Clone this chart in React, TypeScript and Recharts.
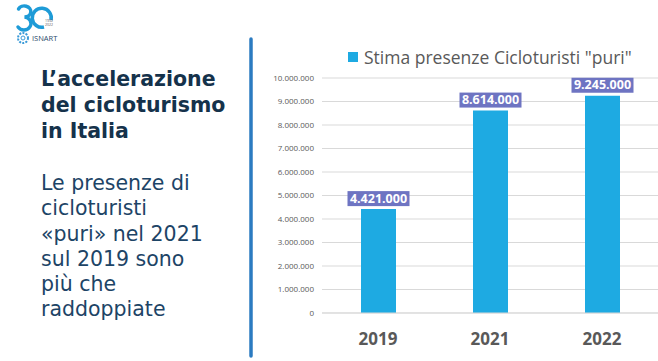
import { BarChart, Bar, XAxis, YAxis, CartesianGrid, LabelList } from 'recharts';

const years = ['2019', '2021', '2022'];
const presenze = [4421000, 8614000, 9245000];
const yTicks = [0, 1000000, 2000000, 3000000, 4000000, 5000000, 6000000, 7000000, 8000000, 9000000, 10000000];
const seriesName = 'Stima presenze Cicloturisti "puri"';
const titleLines = ["L’accelerazione", 'del cicloturismo', 'in Italia'];
const bodyLines = ['Le presenze di', 'cicloturisti', '«puri» nel 2021', 'sul 2019 sono', 'più che', 'raddoppiate'];

const data = years.map((year, i) => ({ year, presenze: presenze[i] }));

const fmt = (v: number) => v.toLocaleString('de-DE');

function ValueBox(props: any) {
  const { x, y, width, value } = props;
  const cx = x + width / 2;
  const w = 62;
  const h = 15;
  return (
    <g>
      <rect x={cx - w / 2} y={y - h - 3} width={w} height={h} fill="#6e74c2" />
      <text x={cx} y={y - 6.5} textAnchor="middle" fill="#fff" fontSize={12.5} fontWeight={700} fontFamily="'Open Sans', sans-serif">
        {fmt(value)}
      </text>
    </g>
  );
}

function Logo() {
  return (
    <svg width={70} height={50} style={{ position: 'absolute', left: 0, top: 0 }}>
      {/* the "3" and the open ring of the logo */}
      <path d="M 18.5 9 A 6.5 5.5 0 1 1 24.5 17 A 7 6.5 0 1 1 18 27" stroke="#1e9bd7" strokeWidth={3.4} fill="none" strokeLinecap="round" />
      <path d="M 44 27 A 9.5 9.5 0 1 1 51 20" stroke="#1e9bd7" strokeWidth={3.5} fill="none" />
      <text x={45} y={22} fontSize={3.5} fill="#555" fontFamily="'Open Sans', sans-serif">1992</text>
      <text x={45} y={26} fontSize={3.5} fill="#555" fontFamily="'Open Sans', sans-serif">2022</text>
      <circle cx={23} cy={38} r={5} stroke="#3a9ad8" strokeWidth={2} strokeDasharray="2 1.2" fill="none" />
      <circle cx={23} cy={38} r={2} stroke="#3a9ad8" strokeWidth={1} fill="none" />
      <text x={32} y={41} fontSize={7.5} fill="#2a4a6a" fontFamily="'Open Sans', sans-serif">ISNART</text>
    </svg>
  );
}

export default function App() {
  return (
    <div style={{ position: 'absolute', left: 0, top: 0, width: 658, height: 361, background: '#fff', overflow: 'hidden' }}>
      <Logo />
      <div style={{ position: 'absolute', left: 41, top: 66, fontFamily: "'DejaVu Sans', sans-serif", fontWeight: 700, fontSize: 20.5, lineHeight: '26px', color: '#15324b' }}>
        {titleLines.map((l) => <div key={l}>{l}</div>)}
      </div>
      <div style={{ position: 'absolute', left: 41, top: 171, fontFamily: "'DejaVu Sans', sans-serif", fontWeight: 400, fontSize: 20.5, lineHeight: '25.3px', color: '#1d4466' }}>
        {bodyLines.map((l) => <div key={l}>{l}</div>)}
      </div>
      <svg width={10} height={361} style={{ position: 'absolute', left: 246, top: 0 }}>
        <line x1={5} y1={39} x2={5} y2={356} stroke="#2b7bc1" strokeWidth={3.5} strokeLinecap="round" />
      </svg>
      <div style={{ position: 'absolute', left: 348, top: 45, display: 'flex', alignItems: 'center', fontFamily: "'Open Sans', sans-serif", fontSize: 17.5, color: '#595959', whiteSpace: 'nowrap' }}>
        <span style={{ display: 'inline-block', width: 10, height: 10, background: '#1eaae2', marginRight: 6 }} />
        <span>{seriesName}</span>
      </div>
      <div style={{ position: 'absolute', left: 0, top: 0 }}>
        <BarChart width={658} height={361} data={data} margin={{ top: 78, right: 0, bottom: 0, left: 250 }} barSize={35}>
          <CartesianGrid vertical={false} stroke="#d9d9d9" />
          <XAxis
            dataKey="year"
            height={48}
            axisLine={{ stroke: '#d9d9d9' }}
            tickLine={false}
            tickMargin={14}
            tick={{ fill: '#595959', fontSize: 17, fontWeight: 700, fontFamily: "'Open Sans', sans-serif" }}
          />
          <YAxis
            width={72}
            domain={[0, 10000000]}
            ticks={yTicks}
            interval={0}
            axisLine={false}
            tickLine={false}
            tickFormatter={fmt}
            tick={{ fill: '#595959', fontSize: 8, fontFamily: "'Open Sans', sans-serif" }}
          />
          <Bar dataKey="presenze" name={seriesName} fill="#1eaae2" isAnimationActive={false}>
            <LabelList dataKey="presenze" content={<ValueBox />} />
          </Bar>
        </BarChart>
      </div>
    </div>
  );
}
